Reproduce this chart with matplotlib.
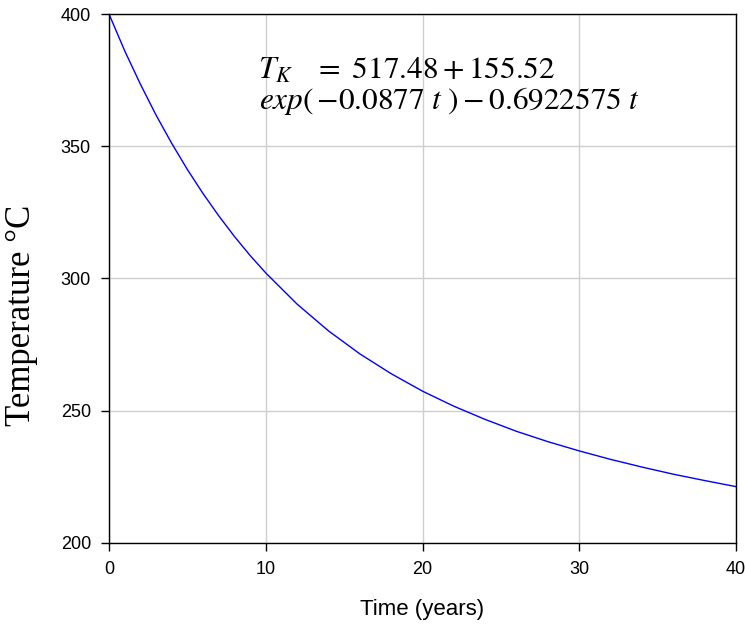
import matplotlib
matplotlib.use("Agg")
import matplotlib.pyplot as plt

# values (years, deg C)
years = [0, 1, 2, 3, 4, 5, 6, 7, 8, 9, 10, 12, 14, 16, 18, 20, 22, 24, 26,
         28, 30, 32, 34, 36, 38, 40]
temp_c = [400.0, 386.1, 373.5, 361.8, 351.1, 341.2, 332.1, 323.7, 315.9,
          308.7, 302.1, 290.3, 280.2, 271.5, 264.0, 257.4, 251.7, 246.7,
          242.2, 238.3, 234.8, 231.6, 228.7, 226.0, 223.6, 221.3]
x_ticks = [0, 10, 20, 30, 40]
y_ticks = [200, 250, 300, 350, 400]

plt.rcParams['font.family'] = ['Liberation Sans', 'DejaVu Sans']
plt.rcParams['mathtext.fontset'] = 'stix'

fig = plt.figure(figsize=(7.45, 6.28), dpi=100)
ax = fig.add_axes([0.1463, 0.1354, 0.8417, 0.8423])

ax.plot(years, temp_c, "-", color="#0000ff", lw=1.0)

ax.set_xlim(0, 40)
ax.set_ylim(200, 400)
ax.set_xticks(x_ticks)
ax.set_yticks(y_ticks)
ax.grid(True, color="#cfcfcf", lw=1.0)
ax.set_axisbelow(True)
ax.tick_params(direction="out", length=6, width=1, labelsize=13, pad=7)
for s in ax.spines.values():
    s.set_color("black")
    s.set_linewidth(1.0)

ax.set_xlabel("Time (years)", fontsize=16, labelpad=15)
ax.set_ylabel("Temperature \u00b0C", fontsize=25, family=["Liberation Serif", "DejaVu Serif"])
ax.yaxis.set_label_coords(-0.113, 0.431)

ax.text(9.5, 375.6, r"$T_K\quad=\ 517.48 + 155.52$", fontsize=22.5, va="baseline", ha="left")
ax.text(9.55, 364.2, r"$exp(\,{-}0.0877\ t\ ) - 0.6922575\ t$", fontsize=22.5, va="baseline", ha="left")

fig.savefig("out.png", dpi=100)
